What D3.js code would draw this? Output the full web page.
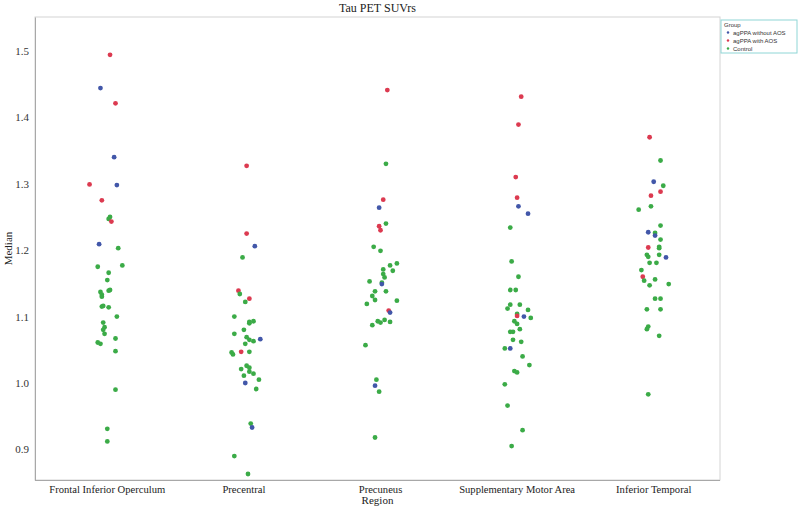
<!DOCTYPE html>
<html>
<head>
<meta charset="utf-8">
<script src="https://cdn.jsdelivr.net/npm/d3@7"></script>
<style>
body{margin:0;background:#fff;}
svg{display:block;}
</style>
</head>
<body>
<div id="chart"></div>
<script>
// categories / groups
var regions = ["Frontal Inferior Operculum", "Precentral", "Precuneus", "Supplementary Motor Area", "Inferior Temporal"];
var groups = ["agPPA without AOS", "agPPA with AOS", "Control"];
var groupColors = ["#4257a9", "#dc3a50", "#3bab47"];
var yTicks = [0.9, 1.0, 1.1, 1.2, 1.3, 1.4, 1.5];

// points: [group index, median SUVr, jitter (fraction of band)]
var frontalPts = [
  [1,1.494,0.02],[0,1.444,-0.05],[1,1.421,0.06],[0,1.340,0.05],[1,1.299,-0.13],[0,1.298,0.07],
  [1,1.275,-0.04],[2,1.250,0.02],[2,1.247,0.01],[1,1.243,0.03],[0,1.209,-0.06],[2,1.203,0.08],
  [2,1.175,-0.07],[2,1.177,0.11],[2,1.166,0.01],[2,1.155,0.00],[2,1.137,-0.05],[2,1.139,0.01],
  [2,1.140,0.02],[2,1.133,-0.04],[2,1.130,-0.04],[2,1.115,-0.04],[2,1.116,-0.03],[2,1.114,0.01],
  [2,1.100,0.07],[2,1.091,-0.03],[2,1.084,-0.02],[2,1.080,-0.03],[2,1.074,-0.02],[2,1.067,0.06],
  [2,1.061,-0.07],[2,1.059,-0.05],[2,1.048,0.06],[2,0.990,0.06],[2,0.931,0.00],[2,0.912,0.00]
];
var precentralPts = [
  [1,1.327,0.02],[1,1.225,0.02],[0,1.206,0.08],[2,1.189,-0.01],[1,1.139,-0.04],[2,1.134,-0.03],
  [1,1.127,0.04],[2,1.122,0.01],[2,1.100,-0.07],[2,1.090,0.04],[2,1.092,0.04],[2,1.093,0.07],
  [2,1.080,0.00],[2,1.074,-0.07],[2,1.069,0.02],[2,1.065,0.04],[0,1.066,0.12],[2,1.063,0.07],
  [2,1.059,0.01],[2,1.046,-0.09],[2,1.043,-0.08],[1,1.047,-0.02],[2,1.047,0.04],[2,1.026,0.02],
  [2,1.023,0.04],[2,1.021,-0.02],[2,1.017,0.04],[2,1.014,0.07],[2,1.011,0.00],[2,1.005,0.11],
  [0,1.000,0.01],[2,0.991,0.09],[2,0.939,0.05],[0,0.933,0.06],[2,0.890,-0.07],[2,0.863,0.03]
];
var precuneusPts = [
  [1,1.441,0.05],[2,1.330,0.04],[1,1.276,0.02],[0,1.264,-0.01],[2,1.240,0.04],[1,1.236,-0.01],
  [1,1.230,0.00],[2,1.205,-0.05],[2,1.199,0.00],[2,1.180,0.12],[2,1.177,0.07],[2,1.171,0.02],
  [2,1.169,0.09],[2,1.164,0.02],[2,1.159,0.03],[2,1.153,-0.08],[2,1.151,0.01],[0,1.149,0.01],
  [2,1.138,-0.04],[2,1.138,0.04],[2,1.131,-0.06],[2,1.125,-0.04],[2,1.124,0.12],[2,1.119,-0.10],
  [1,1.109,0.06],[0,1.106,0.07],[2,1.095,0.03],[2,1.093,-0.02],[2,1.091,0.00],[2,1.092,0.07],
  [2,1.087,-0.06],[2,1.057,-0.11],[2,1.005,-0.03],[0,0.996,-0.04],[2,0.987,-0.01],[2,0.918,-0.04]
];
var smaPts = [
  [1,1.431,0.03],[1,1.389,0.01],[1,1.310,-0.01],[1,1.279,0.00],[0,1.266,0.01],[0,1.255,0.08],
  [2,1.234,-0.05],[2,1.183,-0.04],[2,1.160,0.01],[2,1.140,-0.05],[2,1.140,-0.01],[2,1.118,-0.05],
  [2,1.118,0.02],[2,1.112,-0.07],[2,1.110,0.08],[2,1.104,0.00],[1,1.101,0.00],[0,1.100,0.05],
  [2,1.098,0.10],[2,1.093,-0.02],[2,1.089,0.00],[2,1.081,0.02],[2,1.077,-0.05],[2,1.077,-0.03],
  [2,1.065,-0.03],[2,1.062,0.03],[2,1.052,-0.09],[0,1.052,-0.05],[2,1.040,0.04],[2,1.027,0.09],
  [2,1.018,-0.02],[2,1.016,0.00],[2,0.998,-0.09],[2,0.966,-0.07],[2,0.929,0.04],[2,0.905,-0.04]
];
var temporalPts = [
  [1,1.370,-0.03],[2,1.335,0.05],[0,1.303,0.00],[2,1.297,0.07],[1,1.288,0.05],[1,1.282,-0.02],
  [2,1.266,-0.02],[2,1.261,-0.11],[2,1.237,0.05],[0,1.227,-0.04],[2,1.226,0.01],[0,1.222,0.01],
  [2,1.216,0.05],[1,1.204,-0.04],[2,1.205,0.04],[2,1.203,0.04],[2,1.193,-0.05],[2,1.190,-0.04],
  [2,1.193,0.04],[0,1.189,0.09],[2,1.181,-0.03],[2,1.181,0.02],[2,1.170,-0.09],[1,1.160,-0.08],
  [2,1.154,-0.07],[2,1.156,0.01],[2,1.147,-0.03],[2,1.149,0.11],[2,1.127,0.01],[2,1.127,0.05],
  [2,1.111,-0.05],[2,1.111,0.05],[2,1.085,-0.04],[2,1.081,-0.05],[2,1.071,0.04],[2,0.983,-0.04]
];
var pointSets = [frontalPts, precentralPts, precuneusPts, smaPts, temporalPts];

var W = 800, H = 510;
var svg = d3.select("#chart").append("svg").attr("width", W).attr("height", H);

var plotL = 35, plotR = 720, plotT = 17, plotB = 480;

var x = d3.scaleBand().domain(regions).range([39, 722]);
var y = d3.scaleLinear().domain([0.854, 1.551]).range([plotB, plotT]);

// frame
svg.append("rect")
  .attr("x", plotL).attr("y", plotT)
  .attr("width", plotR - plotL).attr("height", plotB - plotT)
  .attr("fill", "none").attr("stroke", "#d4d4d4").attr("stroke-width", 1);

// y axis
var yAxis = svg.append("g")
  .attr("transform", "translate(" + plotL + ",0)")
  .call(d3.axisLeft(y).tickValues(yTicks).tickFormat(d3.format(".1f")).tickSize(0).tickPadding(6));
yAxis.select(".domain").attr("stroke", "#a8a8a8");
yAxis.selectAll("text")
  .attr("font-family", "Liberation Serif, Times New Roman, serif")
  .attr("font-size", 11).attr("fill", "#333");

// x axis (labels only)
var xAxis = svg.append("g")
  .attr("transform", "translate(0," + plotB + ")")
  .call(d3.axisBottom(x).tickSize(0).tickPadding(5));
xAxis.select(".domain").attr("stroke", "#a8a8a8").attr("d", "M" + plotL + ",0.5H" + plotR);
xAxis.selectAll("text")
  .attr("font-family", "Liberation Serif, Times New Roman, serif")
  .attr("font-size", 10.6).attr("fill", "#222");

// points
var all = [];
pointSets.forEach(function (set, i) {
  set.forEach(function (p) {
    all.push({region: regions[i], g: p[0], v: p[1], j: p[2]});
  });
});
svg.append("g").selectAll("circle")
  .data(all)
  .enter().append("circle")
  .attr("cx", function (d) { return x(d.region) + x.bandwidth() / 2 + d.j * x.bandwidth(); })
  .attr("cy", function (d) { return y(d.v); })
  .attr("r", 2.4)
  .attr("fill", function (d) { return groupColors[d.g]; });

// titles
svg.append("text")
  .attr("x", (plotL + plotR) / 2).attr("y", 12)
  .attr("text-anchor", "middle")
  .attr("font-family", "Liberation Serif, Times New Roman, serif")
  .attr("font-size", 12).attr("fill", "#222")
  .text("Tau PET SUVrs");
svg.append("text")
  .attr("x", (plotL + plotR) / 2).attr("y", 504)
  .attr("text-anchor", "middle")
  .attr("font-family", "Liberation Serif, Times New Roman, serif")
  .attr("font-size", 11).attr("fill", "#222")
  .text("Region");
svg.append("text")
  .attr("transform", "translate(12," + ((plotT + plotB) / 2) + ") rotate(-90)")
  .attr("text-anchor", "middle")
  .attr("font-family", "Liberation Serif, Times New Roman, serif")
  .attr("font-size", 11).attr("fill", "#222")
  .text("Median");

// legend
var leg = svg.append("g").attr("transform", "translate(721,20)");
leg.append("rect")
  .attr("width", 76).attr("height", 33)
  .attr("fill", "#fff").attr("stroke", "#8fd6d6").attr("stroke-width", 1);
leg.append("text")
  .attr("x", 3).attr("y", 7)
  .attr("font-family", "Liberation Sans, Arial, sans-serif")
  .attr("font-size", 6).attr("fill", "#333")
  .text("Group");
groups.forEach(function (g, i) {
  leg.append("circle")
    .attr("cx", 7).attr("cy", 12.5 + i * 8).attr("r", 1.2)
    .attr("fill", groupColors[i]);
  leg.append("text")
    .attr("x", 12).attr("y", 14.5 + i * 8)
    .attr("font-family", "Liberation Sans, Arial, sans-serif")
    .attr("font-size", 6).attr("fill", "#333")
    .text(g);
});
</script>
</body>
</html>
